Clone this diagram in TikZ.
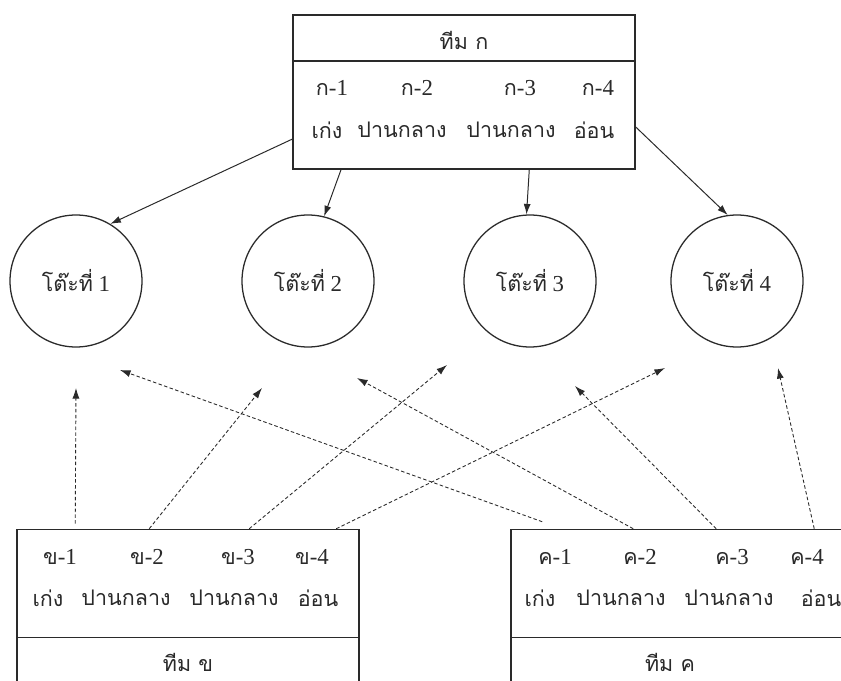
\documentclass[tikz,border=0pt]{standalone}
\usepackage{fontspec}
\setmainfont{Liberation Serif}
\newfontfamily\thaifont[Script=Thai,Scale=0.94]{Loma}
\newcommand{\tha}[1]{{\thaifont #1}}
\usepackage{tikz}
\usetikzlibrary{arrows.meta, positioning, calc}
\definecolor{ink}{HTML}{2A2A2A}

\begin{document}
\begin{tikzpicture}[
    x=0.03cm, y=-0.03cm,
    teambox/.style = {rectangle, draw=ink, line width=1.3pt, fill=white,
                      minimum width=342*0.03cm, inner sep=0pt},
    headbox/.style = {teambox, minimum height=46*0.03cm},
    bodybox/.style = {teambox, minimum height=108*0.03cm},
    tablenode/.style = {circle, draw=ink, line width=1.1pt,
                      minimum size=132*0.03cm, inner sep=0pt},
    txt/.style  = {text=ink, inner sep=0pt, font=\fontsize{19.5}{22}\selectfont},
    arr/.style  = {-{Latex[length=9pt,width=6pt]}, line width=0.85pt, draw=ink},
    darr/.style = {arr, densely dashed, line width=0.75pt}
  ]
  \useasboundingbox (0,0) rectangle (841,681);
  \clip (0,0) rectangle (841,681);

  % Team A (top)
  \node[headbox] (headA) at (464,38)  {};
  \node[bodybox] (bodyA) at (464,115) {};
  \node[txt] (titleA) at (464,40) {\tha{ทีม ก}};
  \node[txt] (a1) at (332,88) {\tha{ก}-1};
  \node[txt] (a2) at (417,88) {\tha{ก}-2};
  \node[txt] (a3) at (520,88) {\tha{ก}-3};
  \node[txt] (a4) at (598,88) {\tha{ก}-4};
  \node[txt] (aw1) at (327,130) {\tha{เก่ง}};
  \node[txt] (aw2) at (402,130) {\tha{ปานกลาง}};
  \node[txt] (aw3) at (511,130) {\tha{ปานกลาง}};
  \node[txt] (aw4) at (594,130) {\tha{อ่อน}};

  % Tables
  \node[tablenode] (c1) at (76,281)  {};
  \node[tablenode] (c2) at (308,281) {};
  \node[tablenode] (c3) at (530,281) {};
  \node[tablenode] (c4) at (737,281) {};
  \node[txt] at (c1) {\tha{โต๊ะที่} 1};
  \node[txt] at (c2) {\tha{โต๊ะที่} 2};
  \node[txt] at (c3) {\tha{โต๊ะที่} 3};
  \node[txt] at (c4) {\tha{โต๊ะที่} 4};

  % Team B (bottom left)
  \node[bodybox] (bodyB) at (188,583.5) {};
  \node[headbox] (headB) at (188,660.5) {};
  \node[txt] (titleB) at (188,662) {\tha{ทีม ข}};
  \node[txt] (b1) at (60,557)  {\tha{ข}-1};
  \node[txt] (b2) at (147,557) {\tha{ข}-2};
  \node[txt] (b3) at (238,557) {\tha{ข}-3};
  \node[txt] (b4) at (312,557) {\tha{ข}-4};
  \node[txt] (bw1) at (48,598)  {\tha{เก่ง}};
  \node[txt] (bw2) at (126,598) {\tha{ปานกลาง}};
  \node[txt] (bw3) at (234,598) {\tha{ปานกลาง}};
  \node[txt] (bw4) at (318,598) {\tha{อ่อน}};

  % Team C (bottom right)
  \node[bodybox] (bodyC) at (682,583.5) {};
  \node[headbox] (headC) at (682,660.5) {};
  \node[txt] (titleC) at (670,662) {\tha{ทีม ค}};
  \node[txt] (k1) at (555,557) {\tha{ค}-1};
  \node[txt] (k2) at (640,557) {\tha{ค}-2};
  \node[txt] (k3) at (732,557) {\tha{ค}-3};
  \node[txt] (k4) at (807,557) {\tha{ค}-4};
  \node[txt] (kw1) at (540,598) {\tha{เก่ง}};
  \node[txt] (kw2) at (621,598) {\tha{ปานกลาง}};
  \node[txt] (kw3) at (729,598) {\tha{ปานกลาง}};
  \node[txt] (kw4) at (821,598) {\tha{อ่อน}};

  % Free ends of the dashed arrows
  \coordinate (sB1) at ($(bodyB.north west)+(59,-5)$);
  \coordinate (sB2) at ($(bodyB.north west)+(133,0)$);
  \coordinate (sB3) at ($(bodyB.north west)+(233,0)$);
  \coordinate (sB4) at ($(bodyB.north west)+(320,0)$);
  \coordinate (sC1) at ($(bodyC.north west)+(32,-7)$);
  \coordinate (sC2) at ($(bodyC.north west)+(123,0)$);
  \coordinate (sC3) at ($(bodyC.north west)+(206,0)$);
  \coordinate (sC4) at ($(bodyC.north west)+(304,0)$);
  \coordinate (tB1) at (76,388);
  \coordinate (tB2) at (262,388);
  \coordinate (tB3) at (447,365);
  \coordinate (tB4) at (665,368);
  \coordinate (tC1) at (120,370);
  \coordinate (tC2) at (357,378);
  \coordinate (tC3) at (575,386);
  \coordinate (tC4) at (778,368);

  % Arrows from team A
  \draw[arr] (bodyA.188)   -- (c1.59);
  \draw[arr] (bodyA.204.4) -- (c2.76);
  \draw[arr] (bodyA.320)   -- (c3.93);
  \draw[arr] (bodyA.356.7) -- (c4.98);

  % Arrows from teams B and C
  \draw[darr] (sB1) -- (tB1);
  \draw[darr] (sB2) -- (tB2);
  \draw[darr] (sB3) -- (tB3);
  \draw[darr] (sB4) -- (tB4);
  \draw[darr] (sC1) -- (tC1);
  \draw[darr] (sC2) -- (tC2);
  \draw[darr] (sC3) -- (tC3);
  \draw[darr] (sC4) -- (tC4);
\end{tikzpicture}
\end{document}
